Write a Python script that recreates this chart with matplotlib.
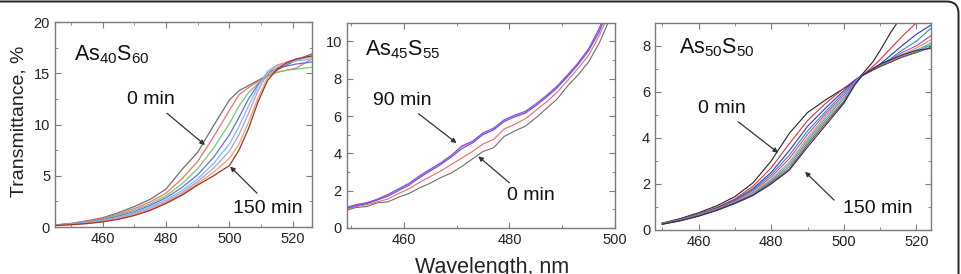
import matplotlib
matplotlib.use("Agg")
import matplotlib.pyplot as plt
from matplotlib.patches import FancyBboxPatch
from matplotlib.transforms import IdentityTransform
from matplotlib.ticker import MultipleLocator

plt.rcParams['font.family'] = ['Liberation Sans', 'DejaVu Sans']
plt.rcParams['mathtext.fontset'] = 'custom'
plt.rcParams['mathtext.rm'] = 'Liberation Sans'
plt.rcParams['mathtext.default'] = 'regular'

# ---- panel 1: As40S60, 0..150 min ----
wl1 = [445, 450, 455, 460, 465, 470, 475, 480, 485, 490,
       495, 500, 503, 506, 509, 512, 515, 518, 521, 526]
t1_curves = [
    [0.20, 0.35, 0.60, 0.90, 1.40, 2.00, 2.70, 3.70, 5.60, 7.30, 9.90, 12.40, 13.30, 13.80, 14.30, 14.80, 15.30, 15.80, 16.30, 16.90],
    [0.20, 0.32, 0.55, 0.82, 1.25, 1.80, 2.45, 3.30, 4.70, 6.40, 8.80, 11.40, 12.90, 13.60, 14.20, 14.70, 15.10, 15.30, 15.50, 16.40],
    [0.18, 0.30, 0.50, 0.75, 1.15, 1.65, 2.25, 3.05, 4.20, 5.70, 7.70, 10.10, 11.80, 13.10, 14.00, 14.70, 15.10, 15.30, 15.40, 15.60],
    [0.18, 0.28, 0.47, 0.70, 1.05, 1.50, 2.10, 2.85, 3.85, 5.10, 6.80, 9.00, 10.70, 12.50, 13.90, 15.00, 15.50, 15.70, 15.90, 16.10],
    [0.17, 0.27, 0.44, 0.65, 0.97, 1.40, 1.95, 2.65, 3.55, 4.70, 6.20, 8.10, 9.80, 11.80, 13.70, 15.20, 15.80, 16.00, 16.20, 16.40],
    [0.16, 0.25, 0.40, 0.60, 0.90, 1.30, 1.82, 2.50, 3.35, 4.45, 5.75, 7.40, 9.00, 11.10, 13.30, 15.00, 15.80, 16.10, 16.30, 16.60],
    [0.15, 0.24, 0.37, 0.55, 0.82, 1.20, 1.70, 2.38, 3.20, 4.25, 5.35, 6.70, 8.10, 10.20, 12.60, 14.60, 15.60, 16.10, 16.40, 16.70],
    [0.15, 0.22, 0.33, 0.50, 0.75, 1.12, 1.62, 2.30, 3.10, 4.10, 5.00, 6.00, 7.50, 9.60, 12.20, 14.30, 15.40, 16.00, 16.40, 16.70],
]
colors1 = ['#6e6e6e', '#f07070', '#70cc70', '#6a6ae6', '#70c4f0', '#c890e0', '#e8a850', '#9a3030']

# ---- panel 2: As45S55, 0..90 min ----
wl2 = [449, 451, 453, 455, 457, 459, 461, 463, 465, 467, 469, 471, 473, 475,
       477, 479, 481, 483, 485, 487, 489, 491, 493, 495, 497, 499, 501]
t2_curves = [
    [0.95, 1.10, 1.15, 1.35, 1.40, 1.65, 1.85, 2.15, 2.40, 2.70, 2.95, 3.30, 3.70, 4.10, 4.30, 4.90, 5.20, 5.45, 5.90, 6.40, 6.90, 7.60, 8.20, 8.90, 9.90, 11.2, 12.5],
    [1.00, 1.15, 1.25, 1.40, 1.55, 1.85, 2.10, 2.45, 2.75, 3.05, 3.40, 3.75, 4.10, 4.50, 4.75, 5.30, 5.55, 5.85, 6.30, 6.75, 7.25, 7.90, 8.55, 9.25, 10.3, 11.6, 12.9],
    [1.05, 1.25, 1.35, 1.50, 1.75, 2.05, 2.35, 2.75, 3.10, 3.45, 3.85, 4.35, 4.60, 5.05, 5.30, 5.75, 6.00, 6.20, 6.60, 7.05, 7.55, 8.15, 8.80, 9.55, 10.6, 12.0, 13.3],
    [1.05, 1.20, 1.30, 1.50, 1.70, 2.00, 2.30, 2.70, 3.05, 3.40, 3.80, 4.25, 4.55, 5.00, 5.25, 5.70, 5.95, 6.15, 6.55, 7.00, 7.50, 8.10, 8.75, 9.50, 10.5, 11.9, 13.2],
    [1.10, 1.25, 1.35, 1.55, 1.80, 2.10, 2.40, 2.80, 3.15, 3.50, 3.90, 4.40, 4.65, 5.10, 5.35, 5.80, 6.05, 6.25, 6.65, 7.10, 7.60, 8.20, 8.85, 9.60, 10.7, 12.1, 13.4],
]
colors2 = ['#6e6e6e', '#f06a6a', '#e070e0', '#5a5ae8', '#8a50d8']

# ---- panel 3: As50S50, 0..150 min ----
wl3 = [450, 455, 460, 465, 470, 475, 480, 485, 490, 495,
       500, 503, 505, 508, 510, 513, 516, 520, 525]
t3_curves = [
    [0.30, 0.50, 0.75, 1.05, 1.45, 2.05, 3.00, 4.20, 5.10, 5.65, 6.15, 6.45, 6.75, 7.30, 7.80, 8.60, 9.30, 9.90, 10.5],
    [0.29, 0.47, 0.70, 0.98, 1.35, 1.90, 2.70, 3.75, 4.75, 5.50, 6.15, 6.50, 6.70, 7.10, 7.40, 7.90, 8.40, 9.00, 9.60],
    [0.28, 0.46, 0.68, 0.95, 1.30, 1.80, 2.50, 3.45, 4.50, 5.30, 6.05, 6.50, 6.70, 7.00, 7.20, 7.60, 8.00, 8.50, 9.00],
    [0.28, 0.45, 0.67, 0.93, 1.27, 1.75, 2.40, 3.25, 4.30, 5.15, 5.95, 6.45, 6.70, 6.95, 7.15, 7.45, 7.80, 8.20, 8.90],
    [0.27, 0.44, 0.66, 0.91, 1.24, 1.70, 2.30, 3.10, 4.15, 5.05, 5.85, 6.45, 6.70, 6.95, 7.10, 7.40, 7.70, 8.00, 8.55],
    [0.27, 0.43, 0.65, 0.90, 1.21, 1.65, 2.20, 2.95, 4.00, 4.95, 5.75, 6.40, 6.70, 6.95, 7.10, 7.35, 7.60, 7.90, 8.35],
    [0.26, 0.42, 0.64, 0.88, 1.19, 1.60, 2.15, 2.85, 3.90, 4.85, 5.70, 6.40, 6.70, 6.95, 7.10, 7.30, 7.55, 7.80, 8.20],
    [0.26, 0.41, 0.62, 0.87, 1.17, 1.55, 2.10, 2.75, 3.80, 4.75, 5.60, 6.35, 6.70, 6.95, 7.10, 7.30, 7.50, 7.75, 8.10],
    [0.25, 0.41, 0.61, 0.86, 1.16, 1.52, 2.05, 2.65, 3.70, 4.65, 5.55, 6.30, 6.70, 6.95, 7.10, 7.30, 7.50, 7.70, 8.00],
    [0.25, 0.40, 0.60, 0.85, 1.15, 1.50, 2.00, 2.60, 3.60, 4.55, 5.50, 6.30, 6.70, 7.00, 7.20, 7.40, 7.60, 7.80, 7.90],
]
colors3 = ['#222222', '#e83030', '#3030e0', '#209888', '#e030e0', '#b8a830',
           '#30b0e0', '#808080', '#8b4a2b', '#2a2a70']

fig = plt.figure(figsize=(9.61, 2.74), dpi=100)

ax1 = fig.add_axes([0.0572, 0.1715, 0.2674, 0.748])
ax2 = fig.add_axes([0.3608, 0.1679, 0.2792, 0.7493])
ax3 = fig.add_axes([0.6816, 0.1606, 0.2872, 0.7566])

for y, c in zip(t1_curves, colors1):
    ax1.plot(wl1, y, color=c, lw=0.9)
for y, c in zip(t2_curves, colors2):
    ax2.plot(wl2, y, color=c, lw=0.8)
for y, c in zip(t3_curves, colors3):
    ax3.plot(wl3, y, color=c, lw=0.8)

ax1.set_xlim(445, 526)
ax1.set_ylim(0, 20)
ax1.xaxis.set_major_locator(MultipleLocator(20))
ax1.xaxis.set_minor_locator(MultipleLocator(10))
ax1.yaxis.set_major_locator(MultipleLocator(5))
ax1.yaxis.set_minor_locator(MultipleLocator(2.5))

ax2.set_xlim(449.2, 500)
ax2.set_ylim(0, 11)
ax2.xaxis.set_major_locator(MultipleLocator(20))
ax2.xaxis.set_minor_locator(MultipleLocator(10))
ax2.yaxis.set_major_locator(MultipleLocator(2))
ax2.yaxis.set_minor_locator(MultipleLocator(1))

ax3.set_xlim(448, 524)
ax3.set_ylim(0, 9)
ax3.xaxis.set_major_locator(MultipleLocator(20))
ax3.xaxis.set_minor_locator(MultipleLocator(10))
ax3.yaxis.set_major_locator(MultipleLocator(2))
ax3.yaxis.set_minor_locator(MultipleLocator(1))

for ax in (ax1, ax2, ax3):
    for s in ax.spines.values():
        s.set_color('#7a7a7a')
        s.set_linewidth(1.0)
    ax.tick_params(which='both', direction='in', top=True, right=True,
                   color='#7a7a7a', labelsize=10.5, labelcolor='#222222')
    ax.tick_params(which='major', length=4, pad=3.5)
    ax.tick_params(which='minor', length=2.5)

# sample names
ax1.text(0.074, 0.815, r'As$_{40}$S$_{60}$', transform=ax1.transAxes,
         fontsize=15.5, va='baseline', color='#111111')
ax2.text(0.068, 0.843, r'As$_{45}$S$_{55}$', transform=ax2.transAxes,
         fontsize=15.5, va='baseline', color='#111111')
ax3.text(0.087, 0.854, r'As$_{50}$S$_{50}$', transform=ax3.transAxes,
         fontsize=15.5, va='baseline', color='#111111')

arrow = dict(arrowstyle='-|>', color='#333333', lw=0.9, mutation_scale=7,
             shrinkA=0, shrinkB=0)

# time labels + arrows: (ax, text, text pos, tail, head)
notes = [
    (ax1, '0 min', (467.7, 12.4), (480.3, 11.1), (492.3, 8.0)),
    (ax1, '150 min', (501.1, 1.76), (508.7, 3.3), (500.2, 5.9)),
    (ax2, '90 min', (454.2, 6.83), (462.8, 6.12), (470.0, 4.55)),
    (ax2, '0 min', (479.5, 1.76), (480.0, 2.42), (474.1, 3.84)),
    (ax3, '0 min', (459.9, 5.28), (470.9, 4.70), (481.9, 3.35)),
    (ax3, '150 min', (499.8, 0.94), (497.3, 1.30), (489.3, 2.53)),
]
for ax, txt, tpos, tail, head in notes:
    ax.text(tpos[0], tpos[1], txt, fontsize=14, ha='left', va='center',
            color='#111111')
    ax.annotate('', xy=head, xytext=tail, arrowprops=arrow)

fig.text(0.0198, 0.556, 'Transmittance, %', rotation=90, fontsize=14,
         ha='center', va='center', color='#222222')
fig.text(0.512, 0.0036, 'Wavelength, nm', fontsize=15.5, ha='center',
         va='baseline', color='#222222')

# rounded frame around the figure (only top/right edges visible)
frame = FancyBboxPatch((-30, -30), 958.5 + 30, 272.5 + 30,
                       boxstyle='round,pad=0,rounding_size=12',
                       transform=IdentityTransform(), fill=False,
                       edgecolor='#222222', linewidth=1.4)
fig.add_artist(frame)

fig.savefig('out.png', dpi=100, facecolor='white')
